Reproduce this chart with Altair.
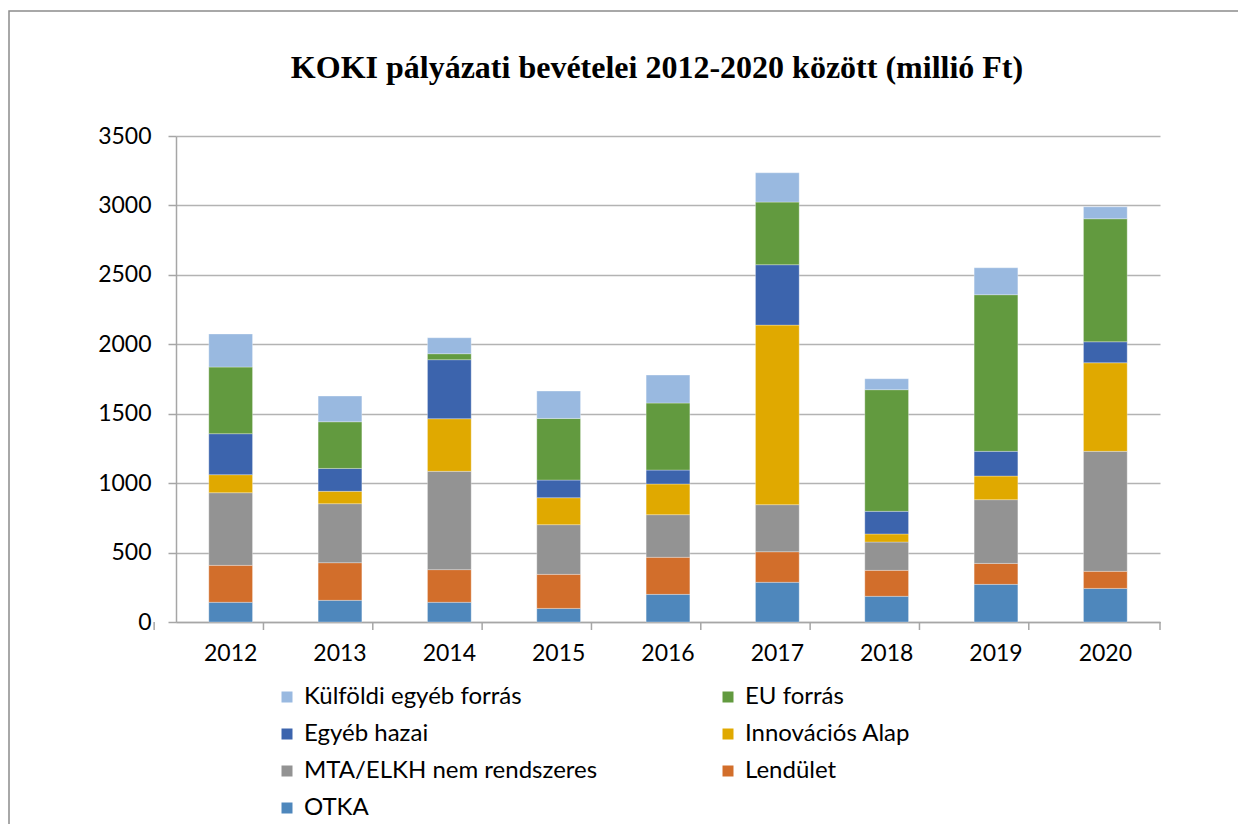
import altair as alt
import pandas as pd

years = ["2012", "2013", "2014", "2015", "2016", "2017", "2018", "2019", "2020"]
series = ["OTKA", "Lendület", "MTA/ELKH nem rendszeres", "Innovációs Alap",
          "Egyéb hazai", "EU forrás", "Külföldi egyéb forrás"]
otka = [142, 156, 142, 98, 199, 286, 185, 271, 242]
lendulet = [266, 271, 235, 245, 267, 220, 187, 151, 123]
mta = [523, 425, 708, 358, 307, 339, 204, 459, 864]
innov = [130, 89, 379, 194, 221, 1293, 58, 170, 638]
egyeb = [295, 165, 425, 127, 100, 435, 163, 178, 151]
eu = [480, 336, 43, 444, 483, 451, 876, 1128, 886]
kulfoldi = [238, 185, 115, 197, 201, 211, 79, 194, 86]
values = [otka, lendulet, mta, innov, egyeb, eu, kulfoldi]

legend_order = ["Külföldi egyéb forrás", "EU forrás", "Egyéb hazai", "Innovációs Alap",
                "MTA/ELKH nem rendszeres", "Lendület", "OTKA"]
colors = ["#99B9E0", "#629A3F", "#3C64AD", "#E0A900", "#939393", "#D26E2B", "#4E87BC"]
title_text = "KOKI pályázati bevételei 2012-2020 között (millió Ft)"

rows = []
for si, (name, vals) in enumerate(zip(series, values)):
    for y, v in zip(years, vals):
        rows.append({"year": y, "series": name, "value": v, "idx": si})
df = pd.DataFrame(rows)

W, H = 984, 486
FONT = "Lato"

xenc = alt.X("year:N", sort=years, title=None,
             scale=alt.Scale(paddingInner=0.6, paddingOuter=0.3),
             axis=alt.Axis(labelAngle=0, ticks=False, labelPadding=20, labelFontSize=23,
                           labelFont=FONT, labelColor="#000000", domainColor="#a6a6a6",
                           domainWidth=1.5))

bars = alt.Chart(df).mark_bar(stroke="#ffffff", strokeWidth=0.5, strokeOpacity=0.6).encode(
    x=xenc,
    y=alt.Y("value:Q", title=None, stack="zero",
            scale=alt.Scale(domain=[0, 3500], nice=False),
            axis=alt.Axis(values=[0, 500, 1000, 1500, 2000, 2500, 3000, 3500], format="d",
                          tickSize=8, tickColor="#a6a6a6", tickWidth=1.5,
                          labelPadding=17, labelFontSize=23, labelFont=FONT,
                          labelColor="#000000", domainColor="#a6a6a6", domainWidth=1.5,
                          gridColor="#b3b3b3", gridWidth=1.5)),
    color=alt.Color("series:N", title=None,
                    scale=alt.Scale(domain=legend_order, range=colors),
                    legend=alt.Legend(orient="none", legendX=99, legendY=549, columns=2,
                                      direction="horizontal",
                                      columnPadding=118, rowPadding=13, padding=0,
                                      symbolType="square", symbolSize=121,
                                      symbolStrokeWidth=0, labelFontSize=24,
                                      labelFont=FONT, labelColor="#000000",
                                      labelOffset=5, labelLimit=400)),
    order=alt.Order("idx:Q", sort="ascending"),
)

tick_df = pd.DataFrame({"year": years})
ticks = alt.Chart(tick_df).mark_rule(color="#a6a6a6", strokeWidth=1.5).encode(
    x=xenc,
    xOffset=alt.value(-54.67),
    y=alt.value(H),
    y2=alt.value(H + 8),
)
end_tick = alt.Chart(pd.DataFrame({"year": [years[-1]]})).mark_rule(
    color="#a6a6a6", strokeWidth=1.5).encode(
    x=alt.value(W), y=alt.value(H), y2=alt.value(H + 8))

border = alt.Chart(pd.DataFrame({"k": [1]})).mark_rect(
    fillOpacity=0, stroke="#8c8c8c", strokeWidth=1.5).encode(
    x=alt.value(-167), x2=alt.value(1300), y=alt.value(-125), y2=alt.value(900))

title = alt.Chart(pd.DataFrame({"t": [title_text]})).mark_text(
    font="Liberation Serif", fontWeight="bold", fontSize=32, align="center",
    baseline="alphabetic", color="#000000").encode(
    text="t:N", x=alt.value(481), y=alt.value(-58))

chart = alt.layer(bars, ticks, end_tick, border, title).properties(
    width=W, height=H,
    autosize=alt.AutoSizeParams(type="none"),
    padding={"left": 168, "top": 128, "right": 78, "bottom": 202},
).configure_view(stroke=None)

chart.save("out.html", embed_options={"renderer": "svg", "actions": False})
